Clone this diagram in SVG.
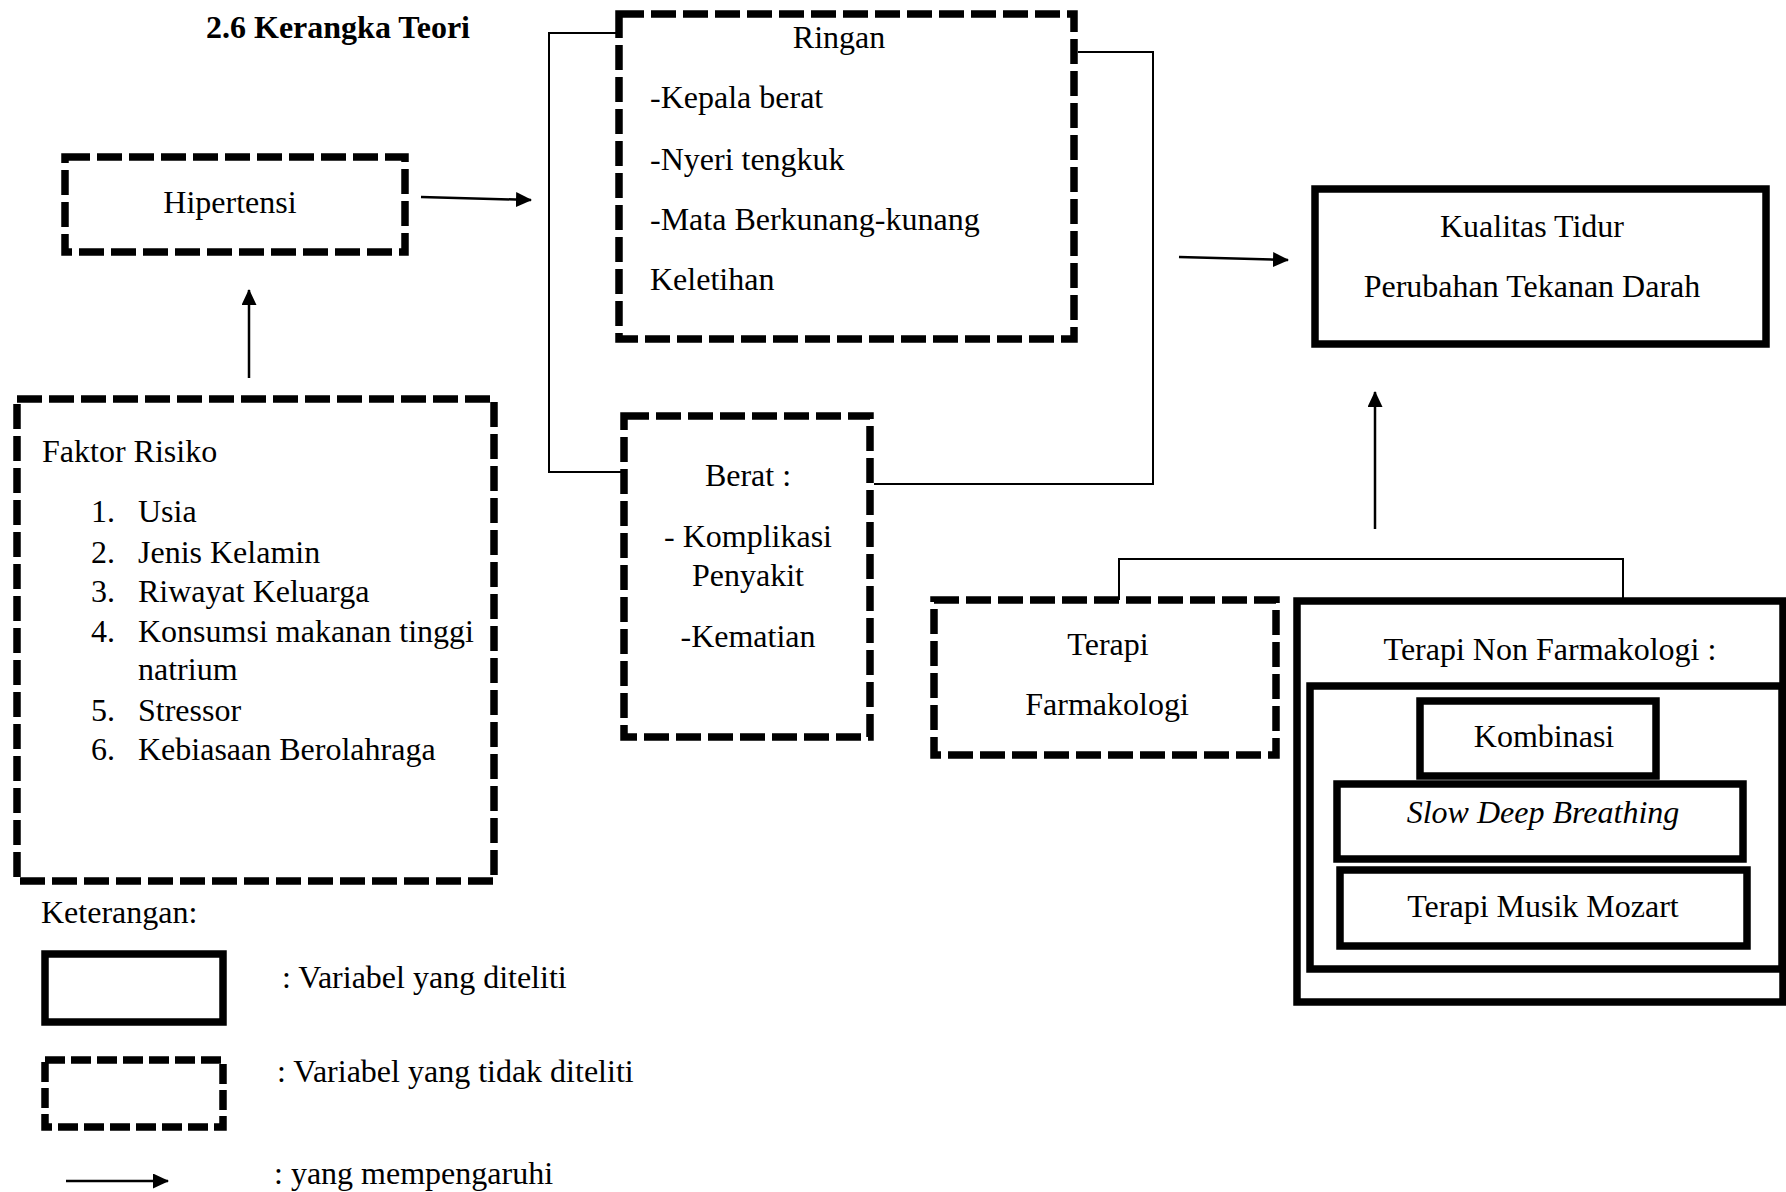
<svg xmlns="http://www.w3.org/2000/svg" width="1786" height="1192" viewBox="0 0 1786 1192">
<style>
text{font-family:"Liberation Serif","Times New Roman",serif;font-size:32px;fill:#000}
.title{font-weight:bold}
.c{text-anchor:middle}
.it{font-style:italic}
.dash{fill:#fff;stroke:#000;stroke-width:7.5;stroke-dasharray:25 7}
.dashs{fill:#fff;stroke:#000;stroke-width:7.5;stroke-dasharray:20 6}
.solid{fill:#fff;stroke:#000;stroke-width:7.5}
.ln{fill:none;stroke:#000;stroke-width:2}
.arr{fill:none;stroke:#000;stroke-width:2.5;marker-end:url(#ah)}
</style>
<defs>
<marker id="ah" markerUnits="userSpaceOnUse" markerWidth="16" markerHeight="16" refX="15" refY="7.5" orient="auto">
<path d="M0,0 L16,7.5 L0,15 z" fill="#000"/>
</marker>
</defs>
<rect width="1786" height="1192" fill="#fff"/>
<text class="title c" x="338" y="38">2.6 Kerangka Teori</text>

<g id="connectors">
<line class="arr" x1="421" y1="197" x2="531" y2="200"/>
<line class="arr" x1="249" y1="378" x2="249" y2="290"/>
<polyline class="ln" points="619,33 549,33 549,472 624,472"/>
<polyline class="ln" points="1078,52 1153,52 1153,484 874,484"/>
<line class="arr" x1="1179" y1="257" x2="1288" y2="260"/>
<line class="arr" x1="1375" y1="529" x2="1375" y2="392"/>
<polyline class="ln" points="1119,600 1119,559 1623,559 1623,603"/>
</g>

<g id="hipertensi">
<rect class="dash" x="65" y="157" width="340" height="95"/>
<text class="c" x="230" y="213">Hipertensi</text>
</g>

<g id="faktor-risiko">
<rect class="dash" x="17" y="399" width="477" height="482"/>
<text x="42" y="462">Faktor Risiko</text>
<text x="91" y="522">1.</text><text x="138" y="522">Usia</text>
<text x="91" y="563">2.</text><text x="138" y="563">Jenis Kelamin</text>
<text x="91" y="602">3.</text><text x="138" y="602">Riwayat Keluarga</text>
<text x="91" y="642">4.</text><text x="138" y="642">Konsumsi makanan tinggi</text>
<text x="138" y="680">natrium</text>
<text x="91" y="721">5.</text><text x="138" y="721">Stressor</text>
<text x="91" y="760">6.</text><text x="138" y="760">Kebiasaan Berolahraga</text>
</g>

<g id="ringan">
<rect class="dash" x="619" y="14" width="455" height="325"/>
<text class="c" x="839" y="48">Ringan</text>
<text x="650" y="108">-Kepala berat</text>
<text x="650" y="170">-Nyeri tengkuk</text>
<text x="650" y="230">-Mata Berkunang-kunang</text>
<text x="650" y="290">Keletihan</text>
</g>

<g id="berat">
<rect class="dash" x="624" y="416" width="246" height="321"/>
<text class="c" x="748" y="486">Berat :</text>
<text class="c" x="748" y="547">- Komplikasi</text>
<text class="c" x="748" y="586">Penyakit</text>
<text class="c" x="748" y="647">-Kematian</text>
</g>

<g id="kualitas-tidur">
<rect class="solid" x="1315" y="189" width="451" height="155" stroke-width="8"/>
<text class="c" x="1532" y="237">Kualitas Tidur</text>
<text class="c" x="1532" y="297">Perubahan Tekanan Darah</text>
</g>

<g id="terapi-farmakologi">
<rect class="dash" x="934" y="600" width="342" height="155"/>
<text class="c" x="1108" y="655">Terapi</text>
<text class="c" x="1107" y="715">Farmakologi</text>
</g>

<g id="terapi-non-farmakologi">
<rect class="solid" x="1297" y="601" width="486" height="401"/>
<text class="c" x="1550" y="660">Terapi Non Farmakologi :</text>
<rect class="solid" x="1310" y="686" width="472" height="283"/>
<g id="kombinasi">
<rect class="solid" x="1420" y="701" width="236" height="75"/>
<text class="c" x="1544" y="747">Kombinasi</text>
</g>
<g id="slow-deep-breathing">
<rect class="solid" x="1337" y="784" width="406" height="75"/>
<text class="c it" x="1543" y="823">Slow Deep Breathing</text>
</g>
<g id="terapi-musik-mozart">
<rect class="solid" x="1340" y="870" width="407" height="76"/>
<text class="c" x="1543" y="917">Terapi Musik Mozart</text>
</g>
</g>

<g id="legend">
<text x="41" y="923">Keterangan:</text>
<rect class="solid" x="45" y="954" width="178" height="68"/>
<text x="282" y="988">: Variabel yang diteliti</text>
<rect class="dashs" x="45" y="1060" width="178" height="67"/>
<text x="277" y="1082">: Variabel yang tidak diteliti</text>
<line class="arr" x1="66" y1="1181" x2="168" y2="1181"/>
<text x="274" y="1184">: yang mempengaruhi</text>
</g>
</svg>
